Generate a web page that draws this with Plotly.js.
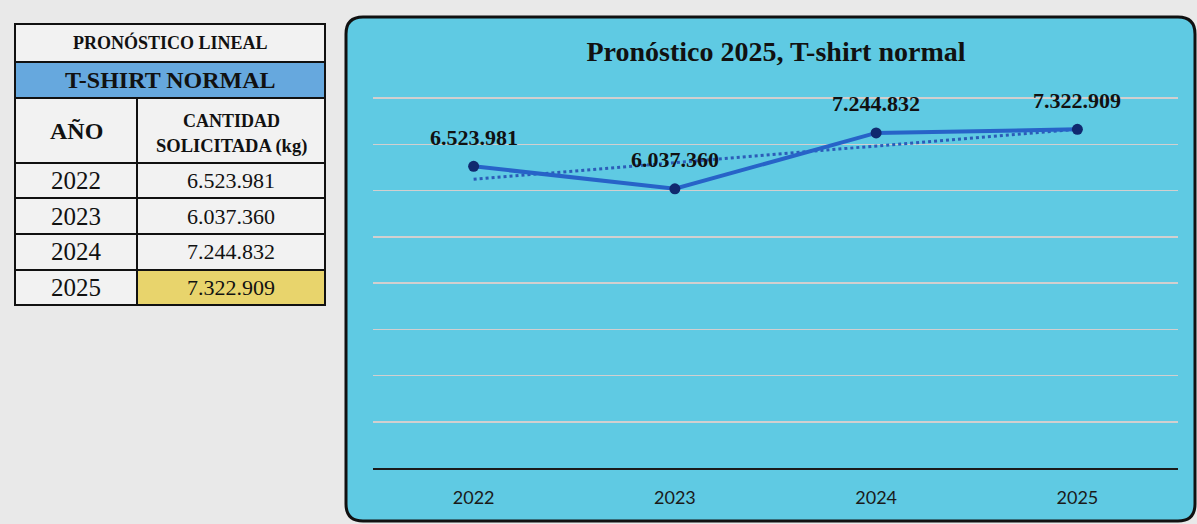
<!DOCTYPE html>
<html><head><meta charset="utf-8">
<script src="https://cdn.plot.ly/plotly-3.0.1.min.js"></script>
<style>html,body{margin:0;padding:0;background:#e9e9e9;} #chart{width:1197px;height:524px;}</style>
</head><body><div id="chart"></div>
<script>
// ---- data ----
const years = ['2022', '2023', '2024', '2025'];
const quantities = [6523981, 6037360, 7244832, 7322909];
const chartTitle = 'Pronóstico 2025, T-shirt normal';
const tableTitle = 'PRONÓSTICO LINEAL';
const tableProduct = 'T-SHIRT NORMAL';
const headerYear = 'AÑO';
const headerQty1 = 'CANTIDAD';
const headerQty2 = 'SOLICITADA (kg)';

function fmt(v) { return String(v).replace(/\B(?=(\d{3})+(?!\d))/g, '.'); }
const quantityLabels = quantities.map(fmt);

// linear trend line (least squares, as in a spreadsheet trendline)
const idx = quantities.map((_, i) => i);
const mx = idx.reduce((a, b) => a + b, 0) / idx.length;
const my = quantities.reduce((a, b) => a + b, 0) / quantities.length;
let sxy = 0, sxx = 0;
idx.forEach((x, i) => { sxy += (x - mx) * (quantities[i] - my); sxx += (x - mx) * (x - mx); });
const slope = sxy / sxx, icpt = my - slope * mx;
const trend = idx.map(x => icpt + slope * x);

// ---- geometry helpers (pixel -> paper) ----
const W = 1197, H = 524;
const M = { l: 373, r: 19, t: 91, b: 56 };
const PW = W - M.l - M.r, PH = H - M.t - M.b;
const px = x => (x - M.l) / PW;
const py = y => (H - M.b - y) / PH;
// 8,000,000 sits 370 px above the axis; extend the range a little so its gridline is drawn
const yTop = 8000000 * PH / 370;

const serif = 'Liberation Serif, Times New Roman, serif';
const shapes = [];
const annotations = [];

// chart panel (rounded rectangle)
(function () {
  const L = 346, R = 1195, T = 17, B = 521, r = 17;
  const p = (x, y) => px(x) + ',' + py(y);
  const path = 'M' + p(L + r, T) + ' L' + p(R - r, T) + ' Q' + p(R, T) + ' ' + p(R, T + r) +
    ' L' + p(R, B - r) + ' Q' + p(R, B) + ' ' + p(R - r, B) +
    ' L' + p(L + r, B) + ' Q' + p(L, B) + ' ' + p(L, B - r) +
    ' L' + p(L, T + r) + ' Q' + p(L, T) + ' ' + p(L + r, T) + ' Z';
  shapes.push({ type: 'path', xref: 'paper', yref: 'paper', path: path, fillcolor: '#5fcae3',
    line: { color: '#111', width: 3 }, layer: 'below' });
})();

// table
const tx0 = 15, txm = 137, tx1 = 325;
const rowsY = [24, 62, 98, 163, 198, 234, 270, 305];
function cell(x0, y0, x1, y1, fill) {
  shapes.push({ type: 'rect', xref: 'paper', yref: 'paper', x0: px(x0), x1: px(x1), y0: py(y1), y1: py(y0),
    fillcolor: fill, line: { color: '#111', width: 2 }, layer: 'above' });
}
function txt(x, y, text, size, bold) {
  annotations.push({ xref: 'paper', yref: 'paper', x: px(x), y: py(y), text: text, showarrow: false,
    xanchor: 'center', yanchor: 'middle', font: { family: serif, size: size, color: '#111', weight: bold ? 700 : 400 } });
}
cell(tx0, rowsY[0], tx1, rowsY[1], '#f2f2f2');
cell(tx0, rowsY[1], tx1, rowsY[2], '#66a8de');
cell(tx0, rowsY[2], txm, rowsY[3], '#f2f2f2');
cell(txm, rowsY[2], tx1, rowsY[3], '#f2f2f2');
txt((tx0 + tx1) / 2, (rowsY[0] + rowsY[1]) / 2, tableTitle, 18, true);
txt((tx0 + tx1) / 2, (rowsY[1] + rowsY[2]) / 2, tableProduct, 24, true);
txt((tx0 + txm) / 2, (rowsY[2] + rowsY[3]) / 2, headerYear, 24, true);
txt((txm + tx1) / 2, 121, headerQty1, 18, true);
txt((txm + tx1) / 2, 146, headerQty2, 18.5, true);
years.forEach((yr, i) => {
  const y0 = rowsY[3 + i], y1 = rowsY[4 + i];
  const last = i === years.length - 1;
  cell(tx0, y0, txm, y1, '#f2f2f2');
  cell(txm, y0, tx1, y1, last ? '#e8d46c' : '#f2f2f2');
  txt((tx0 + txm) / 2, (y0 + y1) / 2, yr, 25, false);
  txt((txm + tx1) / 2, (y0 + y1) / 2, quantityLabels[i], 22, false);
});

// data labels on the chart (category axis: position by category index)
years.forEach((yr, i) => {
  annotations.push({ x: i, y: quantities[i], xref: 'x', yref: 'y', text: quantityLabels[i], showarrow: false,
    yshift: 29, xanchor: 'center', yanchor: 'middle',
    font: { family: serif, size: 22, color: '#111', weight: 700 } });
});

const traces = [
  { type: 'scatter', mode: 'lines', x: years, y: trend, line: { color: '#2c5cb8', width: 3, dash: 'dot' },
    hoverinfo: 'skip', showlegend: false },
  { type: 'scatter', mode: 'lines+markers', x: years, y: quantities, line: { color: '#2763c8', width: 4 },
    marker: { color: '#10296f', size: 11 }, showlegend: false }
];

const layout = {
  width: W, height: H,
  margin: M,
  paper_bgcolor: '#e9e9e9', plot_bgcolor: 'rgba(0,0,0,0)',
  title: { text: chartTitle, xref: 'container', yref: 'container', x: 776 / W, y: 1 - 51 / H,
    xanchor: 'center', yanchor: 'middle', font: { family: serif, size: 28, color: '#111', weight: 700 } },
  xaxis: { type: 'category', range: [-0.5, 3.5], showgrid: false, showline: true, linecolor: '#1b1b1b', linewidth: 2,
    ticks: '', ticklabelstandoff: 12, tickfont: { family: 'Lato, sans-serif', size: 18, color: '#1a1a1a' }, zeroline: false },
  yaxis: { range: [0, yTop], dtick: 1000000, tick0: 0, showticklabels: false, gridcolor: '#d2cfcf', gridwidth: 1.5,
    zeroline: false, showline: false, ticks: '' },
  shapes: shapes,
  annotations: annotations,
  showlegend: false
};

Plotly.newPlot('chart', traces, layout, { staticPlot: true, displayModeBar: false });
</script>
</body></html>
